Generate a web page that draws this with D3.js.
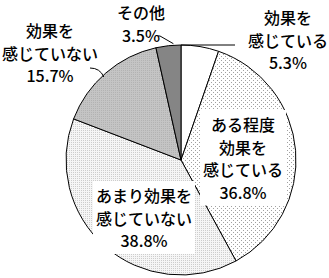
<!DOCTYPE html>
<html>
<head>
<meta charset="utf-8">
<script src="https://cdn.jsdelivr.net/npm/d3@7"></script>
<style>
  body { margin: 0; background: #fff; }
  text { font-family: "Noto Sans CJK JP", "Noto Sans", sans-serif; font-size: 16px; font-weight: 500; fill: #000; }
</style>
</head>
<body>
<div id="chart"></div>
<script>
// datos del grafico
var categorias = ["効果を感じている", "ある程度効果を感じている", "あまり効果を感じていない", "効果を感じていない", "その他"];
var valores = [5.3, 36.8, 38.8, 15.7, 3.5];
var etiquetas = [
  ["効果を", "感じている"],
  ["ある程度", "効果を", "感じている"],
  ["あまり効果を", "感じていない"],
  ["効果を", "感じていない"],
  ["その他"]
];

// estilos y posiciones
var rellenos = ["#ffffff", "url(#pLigero)", "url(#pMedio)", "url(#pGris)", "#858585"];
var posEtiq = [
  {x: 288, y: 17, fondo: false},
  {x: 243, y: 124, fondo: true},
  {x: 144, y: 195, fondo: true},
  {x: 50, y: 30, fondo: false},
  {x: 141, y: 12, fondo: false}
];
var lineaAlto = 22.5;

var width = 329, height = 278;
var cx = 181, cy = 160, radio = 115;

var svg = d3.select("#chart")
  .append("svg")
  .attr("width", width)
  .attr("height", height);

// patrones de puntos
var defs = svg.append("defs");
function patron(id, fondo, tam, puntos, color) {
  var p = defs.append("pattern")
    .attr("id", id)
    .attr("patternUnits", "userSpaceOnUse")
    .attr("width", tam)
    .attr("height", tam);
  p.append("rect").attr("width", tam).attr("height", tam).attr("fill", fondo);
  puntos.forEach(function(pt) {
    p.append("rect").attr("x", pt[0]).attr("y", pt[1]).attr("width", 1).attr("height", 1).attr("fill", color);
  });
}
patron("pLigero", "#ffffff", 4, [[0, 0], [2, 2]], "#a0a0a0");
patron("pMedio", "#f6f6f6", 2, [[0, 0]], "#cdcdcd");
patron("pGris", "#c4c4c4", 2, [[0, 0]], "#b2b2b2");

var pie = d3.pie().sort(null).value(function(d) { return d; });
var arco = d3.arc().innerRadius(0).outerRadius(radio);

var g = svg.append("g")
  .attr("transform", "translate(" + cx + "," + cy + ")");

g.selectAll("path")
  .data(pie(valores))
  .join("path")
  .attr("d", arco)
  .attr("fill", function(d, i) { return rellenos[i]; })
  .attr("stroke", "#000")
  .attr("stroke-width", 1);

// lineas guia
var arcos = pie(valores);
function puntoBorde(d) {
  var a = (d.startAngle + d.endAngle) / 2;
  return [cx + radio * Math.sin(a), cy - radio * Math.cos(a)];
}
var p0 = puntoBorde(arcos[0]);
svg.append("path")
  .attr("d", "M" + cx + "," + (cy - radio) + "L235," + (cy - radio))
  .attr("fill", "none").attr("stroke", "#000");
var p3 = puntoBorde(arcos[3]);
svg.append("path")
  .attr("d", "M90,68 Q100,68 " + (p3[0] - 2) + "," + (p3[1] + 4))
  .attr("fill", "none").attr("stroke", "#000");
var p4 = puntoBorde(arcos[4]);
svg.append("path")
  .attr("d", "M158,36 L160,36 L" + (p4[0] + 5) + "," + (p4[1] - 2))
  .attr("fill", "none").attr("stroke", "#000");

// etiquetas
var fmt = function(v) { return v.toFixed(1) + "%"; };
etiquetas.forEach(function(lineas, i) {
  var todas = lineas.concat([fmt(valores[i])]);
  var grupo = svg.append("g");
  var pos = posEtiq[i];
  var textos = grupo.selectAll("text")
    .data(todas)
    .join("text")
    .attr("x", pos.x)
    .attr("y", function(d, j) { return pos.y + j * lineaAlto; })
    .attr("text-anchor", "middle")
    .attr("dominant-baseline", "central")
    .text(function(d) { return d; });
  if (pos.fondo) {
    var bb = grupo.node().getBBox();
    grupo.insert("rect", "text")
      .attr("x", bb.x - 3)
      .attr("y", bb.y - 2)
      .attr("width", bb.width + 6)
      .attr("height", bb.height + 4)
      .attr("fill", "#fff");
  }
});
</script>
</body>
</html>
